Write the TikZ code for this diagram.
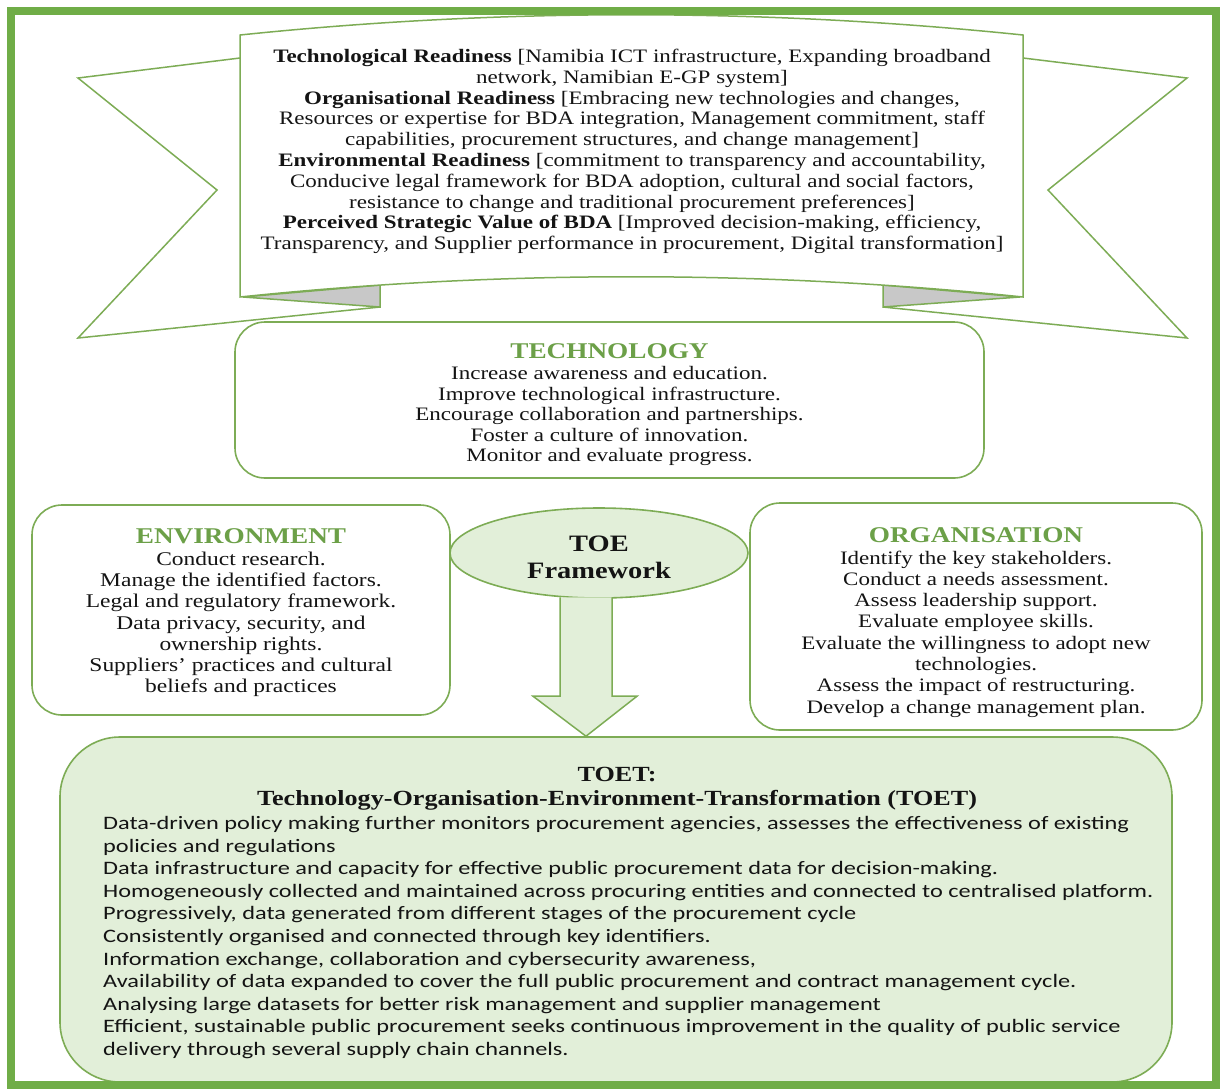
\documentclass[tikz,border=0pt]{standalone}
\usepackage{fontspec}
\setmainfont{Liberation Serif}[FakeStretch=1.21]
\newfontfamily\bodysans{Carlito}[FakeStretch=1.28]
\usetikzlibrary{shapes.geometric,calc}
\definecolor{framegreen}{RGB}{112,173,71}
\definecolor{linegreen}{RGB}{125,172,85}
\definecolor{headgreen}{RGB}{108,160,72}
\definecolor{palegreen}{RGB}{226,239,217}
\definecolor{foldgray}{RGB}{200,200,200}
\definecolor{ink}{RGB}{20,20,20}
% green capital heading at the top of each TOE box
\newcommand\boxheading[1]{\textcolor{headgreen}{\fontsize{22.5}{23}\selectfont\bfseries #1}}
\begin{document}
\begin{tikzpicture}[x=1pt,y=-1pt,
  ribbon/.style={draw=linegreen,line width=1.5pt,fill=white,line join=miter},
  fold/.style={draw=linegreen,line width=1.5pt,fill=foldgray,line join=miter},
  roundbox/.style={draw=linegreen,line width=1.6pt,fill=white,rounded corners=30pt,inner sep=0pt},
  boxtext/.style={align=center,inner sep=0pt,text=ink,font=\fontsize{19}{21}\selectfont},
  blockarrow/.style={draw=linegreen,line width=1.5pt,fill=palegreen,line join=miter}]
\useasboundingbox (0,0) rectangle (1220,1088);

% ---- ribbon banner: back tails, folds, front panel ----
\draw[ribbon] (240,58) -- (78,78) -- (217,190) -- (78,338) -- (380,307);
\draw[ribbon] (1023,58) -- (1187,78) -- (1048,190) -- (1187,338) -- (883,307);
\draw[fold] (243,297) -- (380,285) -- (380,307) -- cycle;
\draw[fold] (883,285) -- (883,307) -- (1020,297) -- cycle;
\draw[ribbon] (240,35) .. controls (500,8) and (762,8) .. (1023,35)
  -- (1023,297) .. controls (762,270) and (500,270) .. (240,297) -- cycle;
\node[boxtext,anchor=north,font=\fontsize{19}{20.8}\selectfont] (readiness) at (632,49)
  {\textbf{Technological Readiness} [Namibia ICT infrastructure, Expanding broadband\\
   network, Namibian E-GP system]\\
   \textbf{Organisational Readiness} [Embracing new technologies and changes,\\
   Resources or expertise for BDA integration, Management commitment, staff\\
   capabilities, procurement structures, and change management]\\
   \textbf{Environmental Readiness} [commitment to transparency and accountability,\\
   Conducive legal framework for BDA adoption, cultural and social factors,\\
   resistance to change and traditional procurement preferences]\\
   \textbf{Perceived Strategic Value of BDA} [Improved decision-making, efficiency,\\
   Transparency, and Supplier performance in procurement, Digital transformation]};

% ---- the three TOE boxes ----
\node[roundbox,minimum width=749pt,minimum height=156pt] (tech) at (609.5,400) {};
\node[boxtext,font=\fontsize{19}{20.6}\selectfont] (techtxt) at ($(tech.center)+(0,5)$)
  {\boxheading{TECHNOLOGY}\\
   Increase awareness and education.\\
   Improve technological infrastructure.\\
   Encourage collaboration and partnerships.\\
   Foster a culture of innovation.\\
   Monitor and evaluate progress.};

\node[roundbox,minimum width=418pt,minimum height=210pt] (env) at (241,610) {};
\node[boxtext,font=\fontsize{19.4}{21.3}\selectfont] (envtxt) at ($(env.center)+(0,3)$)
  {\boxheading{ENVIRONMENT}\\
   Conduct research.\\
   Manage the identified factors.\\
   Legal and regulatory framework.\\
   Data privacy, security, and\\
   ownership rights.\\
   Suppliers' practices and cultural\\
   beliefs and practices};

\node[roundbox,minimum width=452pt,minimum height=227pt] (org) at (976,616.5) {};
\node[boxtext,font=\fontsize{19}{21.3}\selectfont] (orgtxt) at ($(org.center)+(0,6)$)
  {\boxheading{ORGANISATION}\\
   Identify the key stakeholders.\\
   Conduct a needs assessment.\\
   Assess leadership support.\\
   Evaluate employee skills.\\
   Evaluate the willingness to adopt new\\
   technologies.\\
   Assess the impact of restructuring.\\
   Develop a change management plan.};

% ---- TOET result box ----
\node[draw=linegreen,line width=1.6pt,fill=palegreen,rounded corners=60pt,
      minimum width=1112pt,minimum height=345pt,inner sep=0pt] (toet) at (616,909.5) {};
\node[boxtext,anchor=north,font=\fontsize{21.6}{23.5}\selectfont\bfseries] (toettitle) at (617,767)
  {TOET:\\Technology-Organisation-Environment-Transformation (TOET)};
\node[anchor=north west,inner sep=0pt,align=left,text=ink,
      font=\bodysans\fontsize{19}{22.6}\selectfont] (toetbody) at (103,816)
  {Data-driven policy making further monitors procurement agencies, assesses the effectiveness of existing\\
   policies and regulations\\
   Data infrastructure and capacity for effective public procurement data for decision-making.\\
   Homogeneously collected and maintained across procuring entities and connected to centralised platform.\\
   Progressively, data generated from different stages of the procurement cycle\\
   Consistently organised and connected through key identifiers.\\
   Information exchange, collaboration and cybersecurity awareness,\\
   Availability of data expanded to cover the full public procurement and contract management cycle.\\
   Analysing large datasets for better risk management and supplier management\\
   Efficient, sustainable public procurement seeks continuous improvement in the quality of public service\\
   delivery through several supply chain channels.};

% ---- TOE framework ellipse and block arrow ----
\node[ellipse,draw=linegreen,line width=1.6pt,fill=palegreen,minimum width=298pt,
      minimum height=90pt,inner sep=0pt] (toe) at (599,553) {};
\node[align=center,inner sep=0pt,text=ink,font=\fontsize{23.5}{27}\selectfont\bfseries]
  (toetxt) at ($(toe.center)+(0,4)$) {TOE\\Framework};
\coordinate (shafttop) at ($(toe.south)+(-13,-1.5)$);
\coordinate (tip) at (shafttop |- toet.north);
\draw[blockarrow] ($(shafttop)+(-26,0)$) -- ($(tip)+(-26,-40)$) -- ($(tip)+(-53,-40)$)
  -- (tip) -- ($(tip)+(51,-40)$) -- ($(tip)+(26,-40)$) -- ($(shafttop)+(26,0)$);

% ---- outer frame ----
\draw[framegreen,line width=8pt] (11,11) rectangle (1216,1085);
\end{tikzpicture}
\end{document}
